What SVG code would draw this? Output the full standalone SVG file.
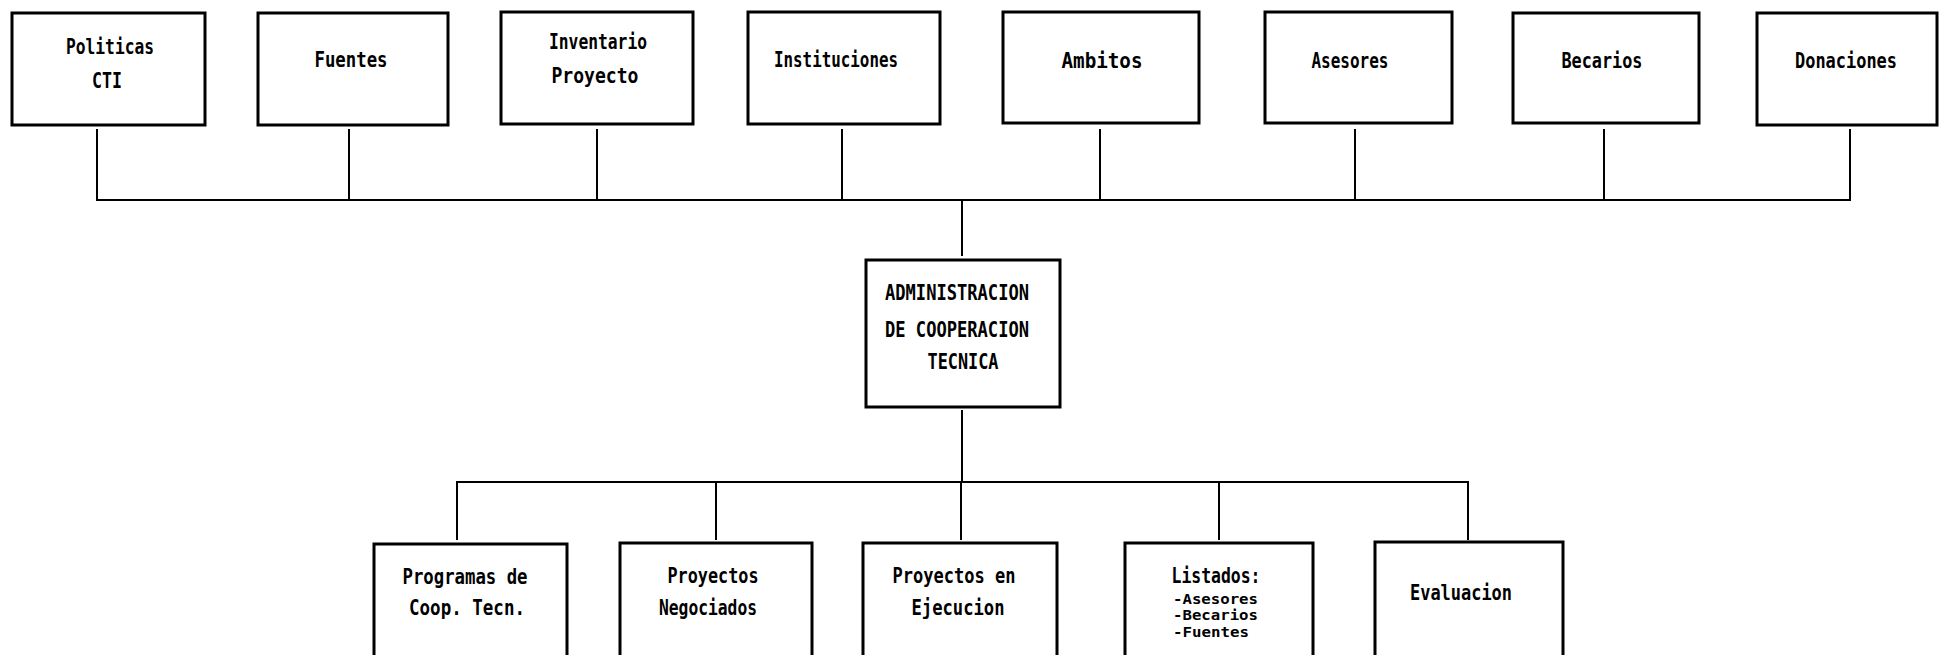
<svg xmlns="http://www.w3.org/2000/svg" width="1940" height="655" viewBox="0 0 1940 655">
<style>
  .box { fill: #ffffff; stroke: #000000; stroke-width: 3; }
  .ln { fill: none; stroke: #000000; stroke-width: 2; stroke-linecap: square; }
  .t { font-family: "DejaVu Sans Mono", "Liberation Mono", monospace; font-weight: bold; font-size: 21px; fill: #000000; text-anchor: middle; }
  .s { font-family: "DejaVu Sans Mono", "Liberation Mono", monospace; font-weight: bold; font-size: 14px; fill: #000000; }
</style>
<rect x="0" y="0" width="1940" height="655" fill="#ffffff"/>

<g id="connectors">
  <path class="ln" d="M97 130 V200 M349 130 V200 M597 130 V200 M842 130 V200 M1100 130 V200 M1355 130 V200 M1604 130 V200 M1850 130 V200"/>
  <path class="ln" d="M97 200 H1850"/>
  <path class="ln" d="M962 200 V255"/>
  <path class="ln" d="M962 411 V482"/>
  <path class="ln" d="M457 482 H1468"/>
  <path class="ln" d="M457 482 V539 M716 482 V539 M961 482 V539 M1219 482 V539 M1468 482 V539"/>
</g>

<g id="node-politicas">
  <rect class="box" x="12" y="13" width="193" height="112"/>
  <text class="t" x="110" y="54" textLength="88" lengthAdjust="spacingAndGlyphs">Politicas</text>
  <text class="t" x="107" y="88" textLength="30" lengthAdjust="spacingAndGlyphs">CTI</text>
</g>
<g id="node-fuentes">
  <rect class="box" x="258" y="13" width="190" height="112"/>
  <text class="t" x="351" y="67" textLength="73" lengthAdjust="spacingAndGlyphs">Fuentes</text>
</g>
<g id="node-inventario">
  <rect class="box" x="501" y="12" width="192" height="112"/>
  <text class="t" x="598" y="49" textLength="98" lengthAdjust="spacingAndGlyphs">Inventario</text>
  <text class="t" x="595" y="83" textLength="87" lengthAdjust="spacingAndGlyphs">Proyecto</text>
</g>
<g id="node-instituciones">
  <rect class="box" x="748" y="12" width="192" height="112"/>
  <text class="t" x="836" y="67" textLength="124" lengthAdjust="spacingAndGlyphs">Instituciones</text>
</g>
<g id="node-ambitos">
  <rect class="box" x="1003" y="12" width="196" height="111"/>
  <text class="t" x="1102" y="68" textLength="81" lengthAdjust="spacingAndGlyphs">Ambitos</text>
</g>
<g id="node-asesores">
  <rect class="box" x="1265" y="12" width="187" height="111"/>
  <text class="t" x="1350" y="68" textLength="77" lengthAdjust="spacingAndGlyphs">Asesores</text>
</g>
<g id="node-becarios">
  <rect class="box" x="1513" y="13" width="186" height="110"/>
  <text class="t" x="1602" y="68" textLength="81" lengthAdjust="spacingAndGlyphs">Becarios</text>
</g>
<g id="node-donaciones">
  <rect class="box" x="1757" y="13" width="180" height="112"/>
  <text class="t" x="1846" y="68" textLength="102" lengthAdjust="spacingAndGlyphs">Donaciones</text>
</g>

<g id="node-administracion">
  <rect class="box" x="866" y="260" width="194" height="147"/>
  <text class="t" x="957" y="300" textLength="144" lengthAdjust="spacingAndGlyphs">ADMINISTRACION</text>
  <text class="t" x="957" y="337" textLength="144" lengthAdjust="spacingAndGlyphs">DE COOPERACION</text>
  <text class="t" x="963" y="369" textLength="71" lengthAdjust="spacingAndGlyphs">TECNICA</text>
</g>

<g id="node-programas">
  <rect class="box" x="374" y="544" width="193" height="130"/>
  <text class="t" x="465" y="584" textLength="125" lengthAdjust="spacingAndGlyphs">Programas de</text>
  <text class="t" x="467" y="615" textLength="116" lengthAdjust="spacingAndGlyphs">Coop. Tecn.</text>
</g>
<g id="node-negociados">
  <rect class="box" x="620" y="543" width="192" height="130"/>
  <text class="t" x="713" y="583" textLength="91" lengthAdjust="spacingAndGlyphs">Proyectos</text>
  <text class="t" x="708" y="615" textLength="98" lengthAdjust="spacingAndGlyphs">Negociados</text>
</g>
<g id="node-ejecucion">
  <rect class="box" x="863" y="543" width="194" height="130"/>
  <text class="t" x="954" y="583" textLength="123" lengthAdjust="spacingAndGlyphs">Proyectos en</text>
  <text class="t" x="958" y="615" textLength="93" lengthAdjust="spacingAndGlyphs">Ejecucion</text>
</g>
<g id="node-listados">
  <rect class="box" x="1125" y="543" width="188" height="130"/>
  <text class="t" x="1216" y="583" textLength="89" lengthAdjust="spacingAndGlyphs">Listados:</text>
  <text class="s" x="1173" y="604" textLength="85" lengthAdjust="spacingAndGlyphs">-Asesores</text>
  <text class="s" x="1173" y="620" textLength="85" lengthAdjust="spacingAndGlyphs">-Becarios</text>
  <text class="s" x="1173" y="637" textLength="76" lengthAdjust="spacingAndGlyphs">-Fuentes</text>
</g>
<g id="node-evaluacion">
  <rect class="box" x="1375" y="542" width="188" height="130"/>
  <text class="t" x="1461" y="600" textLength="102" lengthAdjust="spacingAndGlyphs">Evaluacion</text>
</g>
</svg>
